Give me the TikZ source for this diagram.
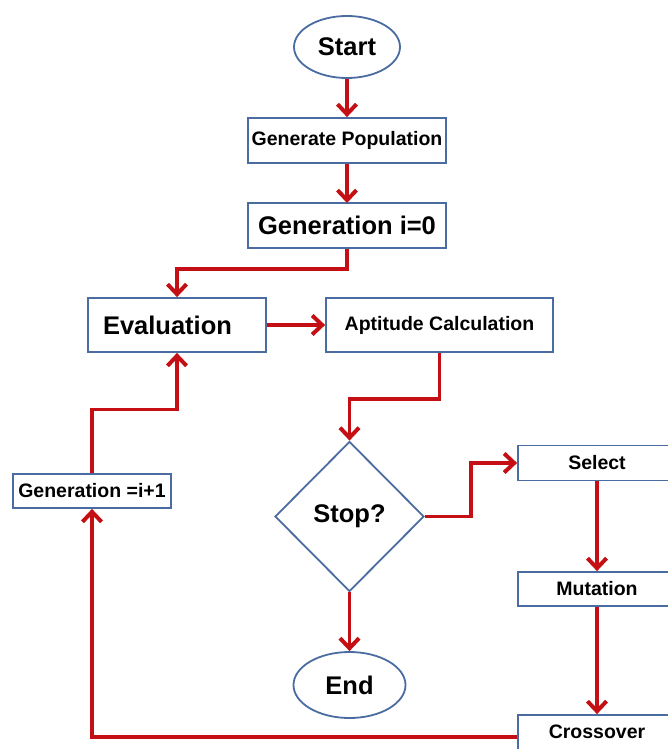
\documentclass[tikz,border=0pt]{standalone}
\usepackage{fontspec}
\setmainfont{Liberation Sans}
\usetikzlibrary{shapes.geometric,arrows.meta}
\definecolor{boxblue}{RGB}{74,108,160}
\definecolor{arrred}{RGB}{196,16,20}
\begin{document}
\begin{tikzpicture}[x=1pt,y=-1pt,
  box/.style={draw=boxblue,line width=1.8pt,fill=white,inner sep=0pt,font=\bfseries\fontsize{19.5}{22}\selectfont},
  bigbox/.style={box,font=\bfseries\fontsize{25.5}{28}\selectfont},
  oval/.style={ellipse,draw=boxblue,line width=1.8pt,fill=white,inner sep=0pt,font=\bfseries\fontsize{25.5}{28}\selectfont},
  dia/.style={diamond,draw=boxblue,line width=1.8pt,fill=white,inner sep=0pt,font=\bfseries\fontsize{25.5}{28}\selectfont},
  arr/.style={draw=arrred,line width=3.2pt,-{Straight Barb[length=10pt,width=19pt,line width=4pt]}},
  link/.style={draw=arrred,line width=3.2pt}]
\useasboundingbox (0,0) rectangle (667,749);
\node[oval,minimum width=106pt,minimum height=62pt] (start) at (347,47) {Start};
\node[box,minimum width=198pt,minimum height=45pt] (genpop) at (347,140.5) {Generate Population};
\node[bigbox,minimum width=198pt,minimum height=45pt] (gen0) at (347,225.5) {Generation i=0};
\node[bigbox,minimum height=54pt,text width=148pt,align=left,inner xsep=15pt] (eval) at (177,325) {Evaluation};
\node[box,minimum width=227pt,minimum height=54pt] (apt) at (439.5,325) {Aptitude Calculation};
\node[dia,minimum width=149pt,minimum height=150pt] (stop) at (349.5,516.5) {\raisebox{-3pt}{Stop?}};
\node[box,minimum width=158pt,minimum height=35pt] (sel) at (597,463) {Select};
\node[box,minimum width=158pt,minimum height=34pt] (mut) at (597,589) {Mutation};
\node[box,minimum width=158pt,minimum height=40pt,text depth=0pt] (cross) at (597,735) {\raisebox{6pt}{Crossover}};
\node[box,minimum width=158pt,minimum height=34pt] (gen1) at (92,491) {Generation =i+1};
\node[oval,minimum width=112pt,minimum height=66pt] (end) at (349.5,685) {End};
\draw[arr] (start.south) -- (genpop.north);
\draw[arr] (genpop.south) -- (gen0.south |- 0,203);
\draw[arr] (gen0.south) -- ++(0,20) -| (eval.north);
\draw[arr] (eval.east) -- (apt.west);
\draw[arr] (apt.south) -- ++(0,46) -| (stop.north);
\draw[arr] (stop.east) -- ++(46,0) |- (sel.west);
\draw[arr] (sel.south) -- (mut.north);
\draw[arr] (mut.south) -- (cross.north);
\draw[arr] (cross.west |- 0,737) -| (gen1.south);
\draw[arr] (gen1.north) -- ++(0,-64) -| (eval.south);
\draw[arr] (stop.south) -- (end.north);
\end{tikzpicture}
\end{document}
